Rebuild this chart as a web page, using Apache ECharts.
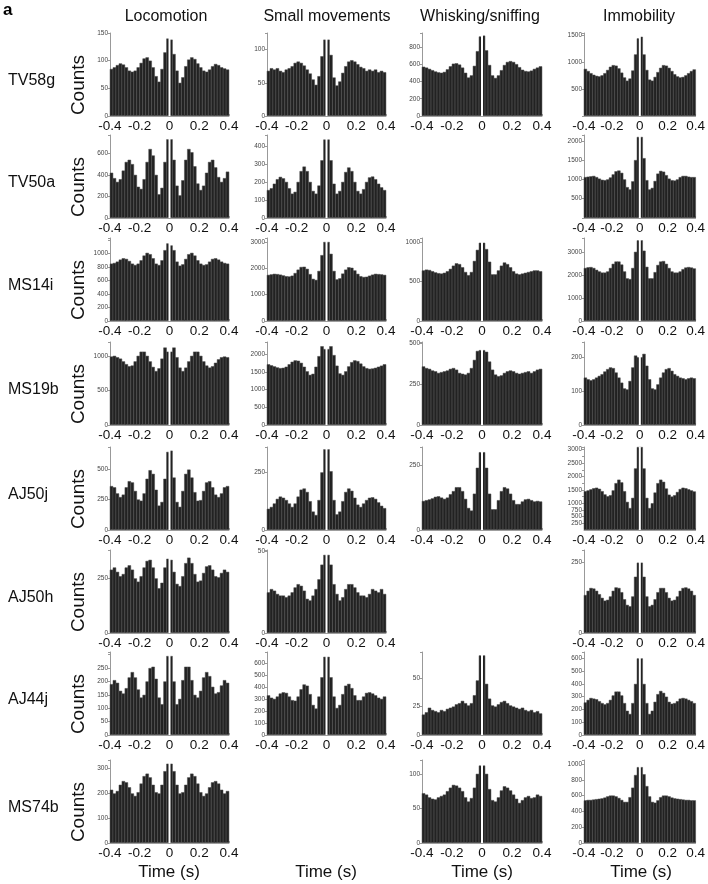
<!DOCTYPE html>
<html>
<head>
<meta charset="utf-8">
<script src="https://cdn.jsdelivr.net/npm/echarts@6/dist/echarts.min.js"></script>
<style>html,body{margin:0;background:#fff}#main{width:708px;height:884px}</style>
</head>
<body>
<div id="main"></div>
<script>
// bin centres (s), 20 ms bins; the zero-lag bin is drawn as the white gap
var lags = [-0.39,-0.37,-0.35,-0.33,-0.31,-0.29,-0.27,-0.25,-0.23,-0.21,-0.19,-0.17,-0.15,-0.13,-0.11,-0.09,-0.07,-0.05,-0.03,-0.01,
            0.01,0.03,0.05,0.07,0.09,0.11,0.13,0.15,0.17,0.19,0.21,0.23,0.25,0.27,0.29,0.31,0.33,0.35,0.37,0.39];
var xTicks = [-0.4, -0.2, 0, 0.2, 0.4];
var states = ['Locomotion', 'Small movements', 'Whisking/sniffing', 'Immobility'];
var cells = ['TV58g', 'TV50a', 'MS14i', 'MS19b', 'AJ50j', 'AJ50h', 'AJ44j', 'MS74b'];

// TV58g
var TV58g_loco = [85,88,92,95,93,88,82,80,82,88,96,104,106,100,88,72,62,85,115,140, 138,112,82,60,70,90,102,106,103,95,88,82,80,84,90,94,92,88,86,84];
var TV58g_small = [68,72,70,72,68,66,70,72,75,80,82,80,76,70,64,55,47,60,90,115, 115,92,58,46,52,65,75,82,84,82,78,74,72,68,70,68,70,66,68,66];
var TV58g_whisk = [570,560,545,530,515,505,500,510,540,575,605,610,595,560,500,445,470,580,750,920, 930,760,590,470,440,470,530,590,625,635,625,600,565,535,520,515,525,545,560,575];
var TV58g_immob = [880,840,800,770,750,740,760,800,860,920,950,940,890,810,720,660,700,850,1150,1450, 1480,1150,860,680,660,730,820,900,950,940,900,840,780,740,720,730,760,800,840,870];
// TV50a
var TV50a_loco = [420,370,335,360,440,520,540,500,400,290,270,360,520,640,580,400,220,280,520,730, 730,540,300,210,350,540,640,610,480,320,260,300,420,520,540,470,380,335,370,430];
var TV50a_small = [155,165,190,215,228,220,200,165,135,145,200,260,285,260,200,150,135,180,320,435, 435,320,190,135,150,200,255,280,260,200,150,135,160,200,225,230,215,190,170,155];
var TV50a_immob = [1060,1070,1080,1090,1060,1020,990,980,1000,1050,1130,1210,1230,1170,1000,800,740,950,1500,2100, 2100,1550,980,740,780,960,1150,1220,1200,1110,1020,980,970,1000,1060,1090,1090,1070,1060,1060];
// MS14i
var MS14i_loco = [850,860,880,910,930,920,890,850,830,850,900,970,1010,990,930,850,830,900,1050,1150, 1120,1050,880,820,840,920,990,1010,970,900,850,830,840,880,920,930,910,880,860,850];
var MS14i_small = [1750,1770,1790,1780,1760,1730,1700,1690,1720,1820,1950,2050,2060,1980,1780,1600,1560,1900,2500,3000, 3000,2550,1900,1580,1620,1800,1950,2040,2020,1920,1790,1700,1670,1680,1720,1760,1790,1780,1770,1750];
var MS14i_whisk = [640,650,645,630,615,605,600,610,630,660,700,730,720,680,620,580,620,760,900,990, 990,910,750,590,590,640,700,740,720,680,630,600,590,600,610,620,630,640,640,630];
var MS14i_immob = [2300,2330,2340,2300,2220,2150,2100,2100,2150,2300,2480,2580,2580,2450,2150,1850,1820,2300,3000,3500, 3500,3050,2350,1850,1850,2120,2430,2580,2600,2480,2300,2150,2100,2100,2150,2250,2320,2340,2320,2280];
// MS19b
var MS19b_loco = [990,1000,980,960,920,880,850,860,920,1000,1060,1060,1000,920,840,780,820,960,1120,1060, 1060,1120,980,830,780,830,920,1000,1060,1060,1000,920,860,830,850,900,950,980,990,980];
var MS19b_small = [1720,1690,1660,1630,1610,1620,1650,1720,1790,1830,1820,1760,1650,1520,1420,1450,1650,1950,2230,2150, 2150,2230,1980,1680,1460,1420,1520,1660,1780,1830,1810,1740,1660,1610,1590,1600,1620,1650,1680,1720];
var MS19b_whisk = [360,350,345,335,330,320,325,330,335,345,350,340,320,315,310,320,350,400,455,460, 460,450,390,340,310,300,305,320,330,335,330,320,315,320,325,330,320,330,340,345];
var MS19b_immob = [140,135,132,135,140,145,150,158,165,170,168,155,140,125,108,105,130,170,205,200, 200,210,175,135,108,105,120,140,155,165,168,160,150,145,140,138,135,138,140,138];
// AJ50j
var AJ50j_loco = [360,350,300,270,290,350,400,390,320,250,240,300,420,490,460,330,200,230,420,640, 650,430,230,190,320,460,495,430,310,240,245,320,390,400,350,290,270,300,350,360];
var AJ50j_small = [92,100,115,135,145,140,130,115,100,115,145,175,180,165,125,80,65,130,250,350, 350,255,130,68,80,125,165,180,170,140,110,100,115,130,140,142,135,120,105,95];
var AJ50j_whisk = [112,115,118,122,128,130,125,120,125,138,150,165,165,150,120,85,75,140,240,300, 300,240,140,80,80,115,150,165,160,140,115,100,100,110,118,120,115,110,112,110];
var AJ50j_immob = [1450,1480,1520,1560,1580,1540,1450,1330,1260,1300,1480,1750,1880,1780,1450,1050,820,1200,2300,3100, 3100,2300,1200,820,1000,1400,1750,1880,1800,1550,1320,1250,1300,1420,1530,1580,1560,1520,1480,1440];
// AJ50h
var AJ50h_loco = [290,300,280,260,270,300,310,290,250,235,260,300,330,335,300,250,205,230,300,340, 335,280,225,215,260,320,345,320,270,235,240,275,305,310,290,260,255,275,290,280];
var AJ50h_small = [25,27,26,24,23,23,22,23,25,28,30,29,26,21,20,23,27,33,42,48, 48,42,30,24,20,22,27,30,30,28,25,23,23,22,24,27,26,25,27,24];
var AJ50h_immob = [135,150,160,158,150,138,125,115,118,130,150,162,160,145,120,100,95,130,200,250, 250,200,130,95,100,120,145,160,160,145,125,115,118,130,150,160,162,158,150,135];
// AJ44j
var AJ44j_loco = [190,205,195,165,155,175,215,235,215,170,140,150,200,250,255,210,140,115,200,295, 295,200,115,135,205,255,255,205,150,140,165,215,235,220,180,155,160,185,205,195];
var AJ44j_small = [330,310,300,320,345,355,350,320,290,285,320,380,420,410,340,250,220,320,480,650, 650,480,320,225,250,340,410,425,390,330,290,290,320,350,355,345,330,310,300,320];
var AJ44j_whisk = [18,20,24,22,21,20,22,21,23,24,25,27,28,30,28,26,28,35,48,70, 70,45,32,26,25,27,29,30,28,26,25,24,23,24,22,21,22,20,21,19];
var AJ44j_immob = [255,275,290,285,280,265,250,240,250,275,310,340,340,310,250,190,165,250,400,600, 600,400,250,165,190,260,320,345,330,300,260,245,250,265,285,290,285,275,265,250];
// MS74b
var MS74b_loco = [215,200,210,235,250,245,225,200,190,205,240,270,280,265,235,205,200,235,290,320, 320,290,235,200,205,235,265,280,270,240,205,190,200,225,245,250,240,215,200,210];
var MS74b_whisk = [72,70,66,64,63,66,68,70,75,80,84,83,80,75,66,60,65,80,100,112, 112,100,78,62,60,66,76,82,80,76,70,64,58,62,66,68,65,66,70,68];
var MS74b_immob = [540,545,545,550,555,560,565,575,590,600,600,590,570,545,520,520,580,700,860,960, 960,870,720,590,520,510,540,580,600,600,590,575,565,560,555,550,545,545,540,540];

var panels = [
  {row:0, col:0, data:TV58g_loco,  max:150,  step:50,   ticks:[0,50,100,150]},
  {row:0, col:1, data:TV58g_small, max:125,  step:50,   ticks:[0,50,100]},
  {row:0, col:2, data:TV58g_whisk, max:960,  step:200,  ticks:[0,200,400,600,800]},
  {row:0, col:3, data:TV58g_immob, max:1550, step:500,  ticks:[500,1000,1500]},
  {row:1, col:0, data:TV50a_loco,  max:770,  step:200,  ticks:[0,200,400,600]},
  {row:1, col:1, data:TV50a_small, max:460,  step:100,  ticks:[0,100,200,300,400]},
  {row:1, col:3, data:TV50a_immob, max:2150, step:500,  ticks:[500,1000,1500,2000]},
  {row:2, col:0, data:MS14i_loco,  max:1230, step:200,  ticks:[0,200,400,600,800,1000]},
  {row:2, col:1, data:MS14i_small, max:3150, step:1000, ticks:[0,1000,2000,3000]},
  {row:2, col:2, data:MS14i_whisk, max:1050, step:500,  ticks:[0,500,1000]},
  {row:2, col:3, data:MS14i_immob, max:3600, step:1000, ticks:[0,1000,2000,3000]},
  {row:3, col:0, data:MS19b_loco,  max:1200, step:500,  ticks:[0,500,1000]},
  {row:3, col:1, data:MS19b_small, max:2350, step:500,  ticks:[0,500,1000,1500,2000]},
  {row:3, col:2, data:MS19b_whisk, max:510,  step:250,  ticks:[0,250,500]},
  {row:3, col:3, data:MS19b_immob, max:245,  step:100,  ticks:[0,100,200]},
  {row:4, col:0, data:AJ50j_loco,  max:680,  step:250,  ticks:[0,250,500]},
  {row:4, col:1, data:AJ50j_small, max:360,  step:250,  ticks:[0,250]},
  {row:4, col:2, data:AJ50j_whisk, max:320,  step:250,  ticks:[0,250]},
  {row:4, col:3, data:AJ50j_immob, max:3100, step:250,  ticks:[0,250,500,750,1000,1500,2000,2500,3000]},
  {row:5, col:0, data:AJ50h_loco,  max:380,  step:250,  ticks:[0,250]},
  {row:5, col:1, data:AJ50h_small, max:51,   step:50,   ticks:[0,50]},
  {row:5, col:3, data:AJ50h_immob, max:295,  step:250,  ticks:[0,250]},
  {row:6, col:0, data:AJ44j_loco,  max:310,  step:50,   ticks:[0,50,100,150,200,250]},
  {row:6, col:1, data:AJ44j_small, max:690,  step:100,  ticks:[0,100,200,300,400,500,600]},
  {row:6, col:2, data:AJ44j_whisk, max:73,   step:25,   ticks:[0,25,50]},
  {row:6, col:3, data:AJ44j_immob, max:650,  step:100,  ticks:[0,100,200,300,400,500,600]},
  {row:7, col:0, data:MS74b_loco,  max:335,  step:100,  ticks:[0,100,200,300]},
  {row:7, col:2, data:MS74b_whisk, max:120,  step:50,   ticks:[0,50,100]},
  {row:7, col:3, data:MS74b_immob, max:1050, step:200,  ticks:[0,200,400,600,800,1000]}
];

var colLeft = [110, 267, 422, 584];
var colW = [119, 119, 120, 115];
var rowTop = [33, 135, 238, 342, 447, 550, 652, 760];
var rowH = 83;
var FONT = '"Liberation Sans", Arial, Helvetica, sans-serif';

var grids = [], xAxes = [], yAxes = [], series = [];
panels.forEach(function (p, i) {
  grids.push({left: colLeft[p.col], top: rowTop[p.row], width: colW[p.col], height: rowH});
  xAxes.push({
    type: 'value', gridIndex: i, min: -0.4, max: 0.4, interval: 0.2,
    axisLine: {onZero: false, lineStyle: {color: '#aaa', width: 1}},
    axisTick: {inside: true, length: 2, lineStyle: {color: '#aaa'}},
    minorTick: {show: true, splitNumber: 2, length: 2, lineStyle: {color: '#aaa'}},
    splitLine: {show: false},
    axisLabel: {
      color: '#111', fontSize: 13.5, fontFamily: FONT, margin: 3,
      formatter: function (v) {
        var r = Math.round(v * 10) / 10;
        return xTicks.indexOf(r) >= 0 ? String(r) : '';
      }
    }
  });
  yAxes.push({
    type: 'value', gridIndex: i, min: 0, max: p.max, interval: p.step,
    axisLine: {show: true, onZero: false, lineStyle: {color: '#999', width: 1}},
    axisTick: {show: true, length: 2, lineStyle: {color: '#999'}},
    splitLine: {show: false},
    axisLabel: {
      color: '#444', fontSize: 6.5, fontFamily: FONT, margin: 2,
      formatter: (function (ticks) {
        return function (v) { return ticks.indexOf(v) >= 0 ? String(v) : ''; };
      })(p.ticks)
    }
  });
  series.push({
    type: 'bar', xAxisIndex: i, yAxisIndex: i,
    barWidth: colW[p.col] / lags.length + 0.4,
    itemStyle: {color: '#222', borderColor: '#4a4a4a', borderWidth: 0.5},
    data: lags.map(function (t, k) { return [t, p.data[k]]; })
  });
});

var graphics = [];
graphics.push({type: 'text', left: 3, top: 2, style: {text: 'a', font: 'bold 17px ' + FONT, fill: '#000'}});
var titleX = [166, 327, 480, 639];
var timeX = [169, 326, 482, 641];
states.forEach(function (s, c) {
  graphics.push({type: 'text', x: titleX[c], y: 17,
    style: {text: s, font: '16px ' + FONT, fill: '#111', align: 'center', verticalAlign: 'middle', textAlign: 'center', textVerticalAlign: 'middle'}});
  graphics.push({type: 'text', x: timeX[c], y: 872,
    style: {text: 'Time (s)', font: '17px ' + FONT, fill: '#111', align: 'center', verticalAlign: 'middle', textAlign: 'center', textVerticalAlign: 'middle'}});
});
cells.forEach(function (name, r) {
  graphics.push({type: 'text', x: 8, y: rowTop[r] + 48,
    style: {text: name, font: '16px ' + FONT, fill: '#111', align: 'left', verticalAlign: 'middle', textAlign: 'left', textVerticalAlign: 'middle'}});
  graphics.push({type: 'text', x: 79, y: rowTop[r] + 52, rotation: Math.PI / 2,
    style: {text: 'Counts', font: '19px ' + FONT, fill: '#111', align: 'center', verticalAlign: 'middle', textAlign: 'center', textVerticalAlign: 'middle'}});
});

var chart = echarts.init(document.getElementById('main'));
chart.setOption({
  animation: false,
  backgroundColor: '#fff',
  grid: grids,
  xAxis: xAxes,
  yAxis: yAxes,
  series: series,
  graphic: graphics
});

// white zero-lag gap, placed through each panel's own x scale
var gaps = panels.map(function (p, i) {
  var x0 = chart.convertToPixel({xAxisIndex: i}, 0);
  return {type: 'rect', z: 100, silent: true,
    shape: {x: x0 - 1, y: rowTop[p.row], width: 2, height: rowH},
    style: {fill: '#fff'}};
});
chart.setOption({graphic: graphics.concat(gaps)});
</script>
</body>
</html>
